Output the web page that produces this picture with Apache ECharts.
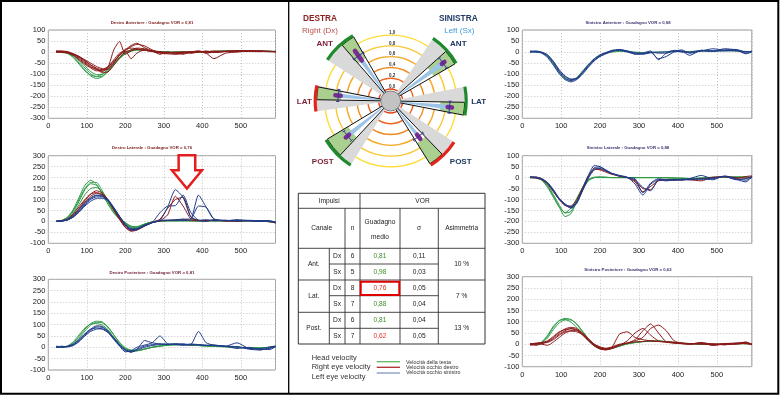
<!DOCTYPE html>
<html><head><meta charset="utf-8">
<script src="https://cdn.jsdelivr.net/npm/echarts/dist/echarts.min.js"></script>
<style>html,body{margin:0;padding:0;background:#fff}#c{width:780px;height:395px}</style>
</head><body><div id="c"></div>
<script>
// ---------- DATA ----------
const T = [20,35,50,65,80,95,110,125,140,155,170,185,200,215,230,250,270,290,310,330,350,370,390,410,430,460,490,520,550,575,590];

// Destro Anteriore
const daHead = [
 [0,0,-5,-22,-50,-82,-108,-120,-112,-88,-55,-25,-3,8,12,10,5,2,0,-2,0,2,0,1,3,4,5,4,3,4,3],
 [0,0,-4,-18,-42,-72,-98,-112,-108,-88,-58,-28,-6,6,10,9,4,1,-1,0,1,0,-1,2,3,5,4,3,4,3,2],
 [0,-1,-3,-15,-35,-62,-88,-102,-100,-84,-58,-30,-8,4,9,8,4,1,0,-1,0,1,0,2,2,4,5,4,3,2,3],
 [0,0,-6,-25,-55,-85,-105,-110,-100,-78,-50,-22,-2,9,13,9,5,2,0,0,-1,1,1,1,2,4,4,5,3,3,2]];
const daRightEye = [
 [0,2,0,-10,-25,-45,-65,-80,-92,-90,-60,-25,0,10,18,15,5,0,-5,-3,0,-5,0,5,-2,3,5,3,2,3,2],
 [3,5,2,-8,-20,-38,-58,-75,-88,-70,10,48,-10,5,12,8,2,-3,0,-8,-5,0,3,0,-2,2,4,5,3,2,1],
 [5,3,0,-12,-30,-50,-68,-78,-85,-75,-45,-15,10,30,40,20,5,-10,0,-5,-10,0,3,-5,0,4,3,5,4,3,3],
 [0,-2,-5,-15,-35,-55,-72,-85,-80,-65,-40,-15,5,25,35,28,10,-5,-8,-10,-5,0,5,-5,-30,-5,0,4,3,2,2],
 [2,0,-3,-10,-22,-40,-58,-72,-80,-70,-35,-5,5,-30,-5,10,3,0,-4,0,-2,-4,0,2,5,3,6,5,4,3,2],
 [4,3,0,-8,-20,-35,-50,-65,-75,-78,-50,-10,12,18,15,8,5,2,-3,-2,0,2,4,1,0,3,2,4,6,3,2]];

// Destro Laterale
const dlHead = [
 [0,5,20,55,110,165,188,170,125,78,38,10,-10,-26,-25,-12,-2,2,3,2,5,3,2,4,3,2,5,3,2,-2,-5],
 [0,3,15,45,92,145,172,165,130,85,42,12,-8,-22,-24,-12,-2,3,4,3,2,4,3,3,2,4,3,4,3,0,-3],
 [0,4,18,50,100,150,178,178,140,92,48,15,-8,-28,-30,-15,-4,1,2,4,3,2,3,2,4,3,2,3,3,-1,-4],
 [0,2,12,38,78,122,150,155,135,95,55,18,-5,-22,-26,-14,-3,2,3,3,4,3,2,3,3,3,2,2,3,1,-2]];
const dlRightEye = [
 [0,2,10,30,60,95,125,140,130,100,55,12,-25,-42,-38,-20,-5,3,30,115,70,12,5,3,5,3,2,4,3,0,-8],
 [0,3,12,35,68,100,125,132,122,95,52,8,-28,-45,-40,-22,-6,2,4,6,10,5,3,4,6,2,3,3,2,-2,-6],
 [0,2,8,25,55,88,115,128,122,98,58,15,-20,-38,-35,-18,-4,10,60,100,110,20,5,3,4,3,2,4,2,0,-5]];
const dlLeftEye = [
 [0,2,8,22,48,80,105,118,115,98,62,22,-15,-35,-35,-18,-5,5,65,145,110,20,5,8,3,5,2,4,3,0,-5],
 [0,1,6,20,45,75,100,112,112,96,60,20,-18,-38,-36,-20,-6,3,5,8,10,12,120,65,10,5,3,5,3,1,-4],
 [0,3,10,28,55,85,108,120,118,100,64,24,-15,-40,-38,-20,-5,40,70,72,120,40,5,0,8,3,4,2,0,3,-3],
 [0,2,7,20,42,70,92,105,106,94,60,22,-12,-32,-32,-16,-4,4,6,5,4,8,70,65,12,3,8,4,3,0,-4]];

// Destro Posteriore
const dpHead = [
 [0,0,5,20,48,80,105,115,112,90,55,20,-5,-15,-15,-8,0,5,10,12,12,10,8,6,5,3,0,-2,-3,0,2],
 [0,0,3,15,40,72,98,110,108,88,55,22,-2,-12,-14,-8,0,5,9,11,11,10,8,6,4,2,0,-2,-3,-1,1],
 [0,1,6,25,55,85,102,105,98,78,45,15,-8,-18,-16,-8,1,6,10,12,12,10,8,6,5,3,1,-1,-2,0,2]];
const dpLeftEye = [
 [0,2,3,10,30,55,75,90,88,70,40,10,-15,-20,-10,30,20,15,12,15,10,12,70,20,10,5,-5,0,-10,-5,5],
 [5,3,5,12,30,58,80,85,80,65,35,5,-20,-15,0,10,20,50,15,12,10,15,12,10,8,5,3,-8,-12,-3,5],
 [0,5,2,8,25,50,70,80,82,68,42,12,-10,-18,-8,5,12,15,14,12,15,10,12,8,10,5,20,-5,-8,-10,3],
 [3,0,4,15,35,60,80,95,92,72,38,8,-12,-22,-12,0,8,12,14,16,14,12,10,8,8,4,2,-4,-6,2,6]];

// Sinistro Anteriore
const saHead = [
 [0,0,-3,-20,-55,-95,-122,-128,-115,-85,-55,-30,-15,-5,0,3,2,0,-2,0,0,2,3,2,3,4,5,6,5,3,2]];
const saLeftEye = [
 [5,3,-2,-18,-50,-90,-118,-130,-120,-95,-65,-38,-20,-8,2,10,5,-5,-8,-2,-30,-20,0,3,-15,8,5,15,10,-5,5],
 [0,0,-5,-25,-60,-98,-125,-135,-125,-92,-60,-35,-15,-3,5,8,3,-10,-5,5,-35,-5,3,10,-5,5,15,8,5,2,3],
 [3,2,-2,-15,-45,-85,-112,-125,-118,-90,-58,-30,-12,-2,8,12,5,-3,-5,0,-5,-5,5,0,-3,5,3,10,12,0,3],
 [0,5,0,-12,-42,-80,-108,-122,-122,-100,-68,-40,-18,-5,5,8,0,-8,-10,-3,0,0,8,5,0,8,5,5,8,-8,0]];

// Sinistro Laterale
const slHead = [
 [0,0,-10,-40,-85,-135,-178,-165,-110,-55,-15,0,0,0,0,0,0,0,0,0,0,0,-2,-3,-5,-3,0,2,3,2,0],
 [0,0,-8,-35,-78,-125,-162,-155,-105,-52,-12,0,2,1,0,0,0,0,0,0,0,0,-2,-2,-4,-2,0,3,2,3,1],
 [0,-2,-12,-45,-90,-135,-160,-140,-95,-45,-8,2,3,2,0,0,0,0,0,0,0,-1,-3,-4,-4,-2,2,1,2,2,0]];
const slRightEye = [
 [0,3,-5,-25,-60,-98,-125,-138,-115,-60,0,35,38,30,18,5,0,-20,-65,-40,-15,-10,-12,-10,-8,-5,0,5,0,-3,5],
 [0,-2,-10,-30,-65,-100,-128,-130,-100,-45,10,40,35,25,15,8,0,-15,-50,-55,-12,-8,-10,-8,-10,-15,2,3,-5,5,8]];
const slLeftEye = [
 [5,2,-5,-22,-55,-95,-122,-140,-118,-55,10,55,50,35,20,10,2,-30,-80,-30,-10,-15,-10,-12,-5,10,-5,5,-8,-20,5],
 [0,0,-8,-28,-62,-100,-125,-132,-110,-50,5,45,48,32,20,8,0,-10,-45,-60,-10,-12,-8,-10,-10,-5,-10,8,-5,-12,0],
 [3,0,-6,-25,-58,-96,-120,-135,-112,-58,-2,38,42,30,18,8,0,-5,-70,-25,-5,-10,-12,-8,-6,-8,-2,5,-10,-5,3]];

// Sinistro Posteriore
const spHead = [
 [0,0,8,35,75,105,115,110,88,55,20,-5,-18,-22,-18,-8,2,8,12,14,14,12,8,5,2,0,-2,0,2,3,2],
 [0,0,5,28,65,95,108,108,90,58,24,-2,-15,-20,-17,-8,2,8,12,13,13,12,8,4,2,0,-1,0,2,2,1],
 [0,1,10,40,80,105,110,98,75,45,15,-8,-20,-24,-19,-9,1,7,11,14,14,11,7,4,2,1,-1,1,2,3,2]];
const spRightEye = [
 [0,5,8,15,35,55,65,68,62,40,15,-8,-22,-25,-15,45,55,30,20,15,12,10,5,3,0,5,-5,2,0,5,0],
 [-5,0,5,10,25,45,60,70,65,45,18,-5,-20,-25,-20,-5,15,50,70,40,15,10,8,5,3,0,2,-3,5,2,-2],
 [0,-5,2,12,30,52,68,75,70,50,22,-3,-18,-22,-18,-5,5,20,60,90,50,10,5,2,0,8,0,3,5,8,-2],
 [2,3,5,8,20,40,55,60,62,48,25,0,-15,-20,-15,-3,5,15,30,70,85,60,15,5,3,2,0,-2,3,5,0],
 [0,2,0,-5,10,30,50,58,55,42,20,0,-12,-18,-12,0,5,10,12,15,12,10,8,3,2,5,-5,0,2,10,0]];

const panelTitles = [
 'Destro Anteriore : Guadagno VOR = 0,81','Destro Laterale : Guadagno VOR = 0,76','Destro Posteriore : Guadagno VOR = 0,81',
 'Sinistro Anteriore : Guadagno VOR = 0,98','Sinistro Laterale : Guadagno VOR = 0,88','Sinistro Posteriore : Guadagno VOR = 0,62'];
const yRanges = [[-300,100],[-100,300],[-100,300],[-300,100],[-300,100],[-100,300]];
const xRange = [0,590];
const headSets = [daHead, dlHead, dpHead, saHead, slHead, spHead];
const rightSets = [daRightEye, dlRightEye, null, null, slRightEye, spRightEye];
const leftSets = [null, dlLeftEye, dpLeftEye, saLeftEye, slLeftEye, null];

// Table (order: Ant Dx, Ant Sx, Lat Dx, Lat Sx, Post Dx, Post Sx)
const tblCanali = ['Ant.','Lat.','Post.'];
const tblLati = ['Dx','Sx'];
const tblN = [6,5,8,7,6,7];
const gainVal = [0.81,0.98,0.76,0.88,0.81,0.62];
const sigmaVal = [0.11,0.03,0.05,0.04,0.04,0.05];
const tblAsim = ['10 %','7 %','13 %'];
const gainLimit = 0.8;

// Polar geometry (degrees, counter-clockwise from right) same order as table
const wedgeSpan = [[120,147],[30,56],[168,188],[-11,11],[211,238],[-58,-33]];
const wedgeCore = [[120,131],[30,42],[169,179],[-11,-1],[211,227],[-58,-46]];
const normalFrom = 0.7;
const ringValues = [0,0.2,0.4,0.6,0.8,1.0];
const ringLabels = ['0,0','0,2','0,4','0,6','0,8','1,0'];

// sanity
[daHead,daRightEye,dlHead,dlRightEye,dlLeftEye,dpHead,dpLeftEye,saHead,saLeftEye,slHead,slRightEye,slLeftEye,spHead,spRightEye]
 .forEach((s,si)=>s.forEach((a,ai)=>{ if(a.length!==T.length) throw new Error('len '+si+'/'+ai+' '+a.length); }));

// ---------- LAYOUT / STYLE ----------
const FONT = 'Liberation Sans';
const panelBox = [
 {left:48.3, top:30,    width:227.2, height:88.3, tx:152, ty:23,  tc:'#7e1d1d'},
 {left:48.3, top:155.7, width:227.2, height:87.6, tx:152, ty:148, tc:'#7e1d1d'},
 {left:48.3, top:279.3, width:227.2, height:90.7, tx:152, ty:273, tc:'#6e1d3a'},
 {left:522.3,top:30,    width:229.5, height:88.3, tx:628, ty:23,  tc:'#3c3370'},
 {left:522.3,top:155.7, width:229.5, height:87.6, tx:628, ty:148, tc:'#3c3370'},
 {left:522.3,top:276.7, width:229.5, height:90,   tx:628, ty:270, tc:'#3c3370'}];
const COL = {head:'#2e9a46', right:'#8c1818', left:'#1f3c8a'};

const grids=[], xAxes=[], yAxes=[], series=[];
panelBox.forEach((b,i)=>{
  grids.push({left:b.left, top:b.top, width:b.width, height:b.height, show:true, borderColor:'#9a9a9a', borderWidth:1, backgroundColor:'#fff', containLabel:false});
  const split = {show:true, lineStyle:{color:'#c4c4c4', type:[1,2], width:1}};
  xAxes.push({gridIndex:i, type:'value', min:xRange[0], max:xRange[1], interval:100,
    axisLine:{show:false}, axisTick:{show:false}, splitLine:split,
    axisLabel:{fontSize:7.5, color:'#1a1a1a', fontFamily:FONT, margin:4, showMaxLabel:false,
      formatter:v=> (v%100===0? String(v):'')}});
  yAxes.push({gridIndex:i, type:'value', min:yRanges[i][0], max:yRanges[i][1], interval:50,
    axisLine:{show:false}, axisTick:{show:false}, splitLine:split,
    axisLabel:{fontSize:7.5, color:'#1a1a1a', fontFamily:FONT, margin:3}});
  const add=(sets,color)=>{ if(!sets) return; sets.forEach(arr=>series.push({type:'line', xAxisIndex:i, yAxisIndex:i,
      data:T.map((t,k)=>[t,arr[k]]), showSymbol:false, symbol:'none', smooth:0.2, silent:true,
      lineStyle:{width:1, color:color}, z:2})); };
  add(headSets[i], COL.head); add(rightSets[i], COL.right); add(leftSets[i], COL.left);
});

// polar
const ringColors = ['#e2431b','#ea661e','#f08a24','#f6aa2b','#fbc632','#ffdc38','rgba(0,0,0,0)','rgba(0,0,0,0)'];
const norm = A => ((A-90)%360+360)%360;
function renderPolar(params, api){
  const i = params.dataIndex;
  const cs = params.coordSys; const cx = cs.cx, cy = cs.cy;
  const P = (r,A)=>api.coord([r, norm(A)]);
  const rp = r => { const p=P(r,90); return Math.hypot(p[0]-cx,p[1]-cy); };
  const rad = A => -A*Math.PI/180;
  const sector=(r0,r1,a1,a2,style)=>({type:'sector', shape:{cx,cy,r0,r:r1,startAngle:rad(a2),endAngle:rad(a1),clockwise:true}, style});
  const children=[];
  if(i===gainVal.length){
    children.push({type:'circle', shape:{cx,cy,r:10}, style:{fill:'#c3c3c3', stroke:'#7a7a7a', lineWidth:1}});
    ringValues.forEach((v,k)=>{ const p=P(v,90); children.push({type:'text', x:p[0]+1.5, y:p[1]-2.5,
      style:{text:ringLabels[k], fontSize:4.6, fontWeight:'bold', fill:'#333', fontFamily:FONT, align:'center', verticalAlign:'middle'}}); });
    return {type:'group', children};
  }
  const g=gainVal[i], s=sigmaVal[i], sp=wedgeSpan[i], co=wedgeCore[i];
  const rOut = rp(1.15);
  const mid = (co[0]+co[1])/2;
  children.push(sector(0,rOut,sp[0],sp[1],{fill:'#d9d9d9'}));
  children.push(sector(0,rOut,co[0],co[1],{fill:'#ffffff'}));
  children.push(sector(rp(normalFrom),rOut,co[0],co[1],{fill:'#a9d08e'}));
  children.push(sector(0,rp(g),mid-2.5,mid+2.5,{fill:'#9dc3e6'}));
  children.push(sector(0,rOut,co[0],co[1],{fill:null, stroke:'#111', lineWidth:1}));
  const a=P(g-s,mid), b=P(g+s,mid);
  children.push({type:'line', shape:{x1:a[0],y1:a[1],x2:b[0],y2:b[1]}, style:{stroke:'#7a2c90', lineWidth:4.5, lineCap:'round'}});
  const d = 6/rp(g)*180/Math.PI;
  const e1=P(g,mid-d), e2=P(g,mid+d);
  children.push({type:'line', shape:{x1:e1[0],y1:e1[1],x2:e2[0],y2:e2[1]}, style:{stroke:'#33339c', lineWidth:1}});
  [mid-d, mid+d].forEach(A=>{ const q1=P(g-0.03,A), q2=P(g+0.03,A);
    children.push({type:'line', shape:{x1:q1[0],y1:q1[1],x2:q2[0],y2:q2[1]}, style:{stroke:'#33339c', lineWidth:1}}); });
  children.push({type:'arc', shape:{cx,cy,r:rOut+1.5,startAngle:rad(sp[1]),endAngle:rad(sp[0]),clockwise:true},
    style:{stroke: g<gainLimit? '#e3231c':'#1e8a2c', lineWidth:3.2, fill:null}});
  return {type:'group', children};
}
series.push({type:'custom', coordinateSystem:'polar', polarIndex:0, silent:true, z:5,
  data: gainVal.map((g,k)=>[g, norm((wedgeCore[k][0]+wedgeCore[k][1])/2)]).concat([[0,0]]),
  renderItem: renderPolar});

// ---------- GRAPHIC ----------
const G = [];
G.push({type:'rect', shape:{x:1,y:1,width:777.3,height:392.8}, style:{fill:null, stroke:'#000', lineWidth:2}, z:100});
G.push({type:'line', shape:{x1:288.7,y1:1,x2:288.7,y2:394}, style:{stroke:'#000', lineWidth:1.3}, z:100});
panelBox.forEach((b,i)=>G.push({type:'text', x:b.tx, y:b.ty, style:{text:panelTitles[i], fontSize:4.3, fontWeight:'bold', fill:b.tc, fontFamily:FONT, align:'center', verticalAlign:'middle'}}));
const txt=(t,x,y,fs,col,bold,al)=>G.push({type:'text', x, y, style:{text:t, fontSize:fs, fill:col, fontWeight:bold?'bold':'normal', fontFamily:FONT, align:al||'center', verticalAlign:'middle'}, z:50});
txt('DESTRA',320,19,8.3,'#8c2222',true);
txt('Right (Dx)',320,30.7,8,'#c0504d',false);
txt('ANT',324.7,43.3,8,'#7a1f33',true);
txt('LAT',304.3,101.7,8,'#7a1f33',true);
txt('POST',322.7,161.7,8,'#7a1f33',true);
txt('SINISTRA',458.3,19,8.3,'#1f3864',true);
txt('Left (Sx)',459.3,30.7,8,'#3d9ddc',false);
txt('ANT',458.3,43.3,8,'#1f3864',true);
txt('LAT',478.7,101.7,8,'#1f3864',true);
txt('POST',460.7,161.7,8,'#1f3864',true);

// table
const cx_ = [298.3,329.3,345,360,400,438.3,485];
const ry_ = [193.3,208.3,248.3,264,280,295.7,312.3,328.3,344];
const L=(x1,y1,x2,y2)=>G.push({type:'line', shape:{x1,y1,x2,y2}, style:{stroke:'#333', lineWidth:0.9}, z:40});
G.push({type:'rect', shape:{x:cx_[0],y:ry_[0],width:cx_[6]-cx_[0],height:ry_[8]-ry_[0]}, style:{fill:'#fff', stroke:'#333', lineWidth:1}, z:39});
L(cx_[0],ry_[1],cx_[6],ry_[1]); L(cx_[0],ry_[2],cx_[6],ry_[2]); L(cx_[0],ry_[4],cx_[6],ry_[4]); L(cx_[0],ry_[6],cx_[6],ry_[6]);
[3,5,7].forEach(r=>L(cx_[1],ry_[r],cx_[5],ry_[r]));
L(cx_[3],ry_[0],cx_[3],ry_[8]);
[2,4,5].forEach(c=>L(cx_[c],ry_[1],cx_[c],ry_[8]));
L(cx_[1],ry_[2],cx_[1],ry_[8]);
const TF=6.6, TC='#222';
txt('Impulsi',(cx_[0]+cx_[3])/2,(ry_[0]+ry_[1])/2,TF,TC);
txt('VOR',(cx_[3]+cx_[6])/2,(ry_[0]+ry_[1])/2,TF,TC);
txt('Canale',(cx_[0]+cx_[2])/2,228.3,TF,TC);
txt('n',(cx_[2]+cx_[3])/2,228.3,TF,TC);
txt('Guadagno',(cx_[3]+cx_[4])/2,221.7,TF,TC);
txt('medio',(cx_[3]+cx_[4])/2,236.7,TF,TC);
txt('σ',(cx_[4]+cx_[5])/2,228.3,TF,TC);
txt('Asimmetria',(cx_[5]+cx_[6])/2,228.3,TF,TC);
tblCanali.forEach((c,k)=>{ const yc=(ry_[2+2*k]+ry_[4+2*k])/2; txt(c,(cx_[0]+cx_[1])/2,yc,TF,TC); txt(tblAsim[k],(cx_[5]+cx_[6])/2,yc,TF,TC); });
gainVal.forEach((g,k)=>{ const yc=(ry_[2+k]+ry_[3+k])/2;
  txt(tblLati[k%2],(cx_[1]+cx_[2])/2,yc,TF,TC);
  txt(String(tblN[k]),(cx_[2]+cx_[3])/2,yc,TF,TC);
  txt(g.toFixed(2).replace('.',','),(cx_[3]+cx_[4])/2,yc,TF, g<gainLimit?'#e8302a':'#3d8f2a');
  txt(sigmaVal[k].toFixed(2).replace('.',','),(cx_[4]+cx_[5])/2,yc,TF,TC);
  if(g<gainLimit && k%2===0) G.push({type:'rect', shape:{x:360.7,y:ry_[2+k]+1.7,width:38.6,height:13.3}, style:{fill:null, stroke:'#e00000', lineWidth:2}, z:45});
});

// legend
const legEn=['Head velocity','Right eye velocity','Left eye velocity'];
const legIt=['Velocità della testa','Velocità occhio destro','Velocità occhio sinistro'];
const legCol=['#6dbb6d','#b33a3a','#8f9dc4'];
const legY=[357.7,367,376.7], legLY=[361.7,367.3,373], legTY=[363,367.7,372.5];
legEn.forEach((t,k)=>{ txt(t,311.7,legY[k],7.5,'#333',false,'left');
  G.push({type:'line', shape:{x1:376.7,y1:legLY[k],x2:400,y2:legLY[k]}, style:{stroke:legCol[k], lineWidth:1.4}});
  txt(legIt[k],406,legTY[k],5.4,'#333',false,'left'); });

const chart = echarts.init(document.getElementById('c'), null, {renderer:'canvas', width:780, height:395});
chart.setOption({
  animation:false, backgroundColor:'#fff',
  grid:grids, xAxis:xAxes, yAxis:yAxes,
  polar:{center:[390.7,101], radius:[12,74]},
  angleAxis:{type:'value', min:0, max:360, startAngle:90, clockwise:false, axisLine:{show:false}, axisTick:{show:false}, axisLabel:{show:false}, splitLine:{show:false}},
  radiusAxis:{type:'value', min:0, max:1.15, interval:0.2, axisLine:{show:false}, axisTick:{show:false}, axisLabel:{show:false},
    splitLine:{show:true, lineStyle:{color:ringColors, width:1.4}}},
  series:series, graphic:G
});
// red arrow annotation in Destro Laterale, anchored to data coordinates
const tip = chart.convertToPixel({gridIndex:1}, [360,150]);
const arrowPts = [[-8.3,-33.3],[8.3,-33.3],[8.3,-18.3],[15,-18.3],[0,0],[-15,-18.3],[-8.3,-18.3]].map(p=>[tip[0]+p[0], tip[1]+p[1]]);
G.push({type:'polygon', shape:{points:arrowPts}, style:{fill:'#fff', stroke:'#e41e1e', lineWidth:2.5, lineJoin:'miter'}, z:60});
chart.setOption({graphic:G});
</script></body></html>
